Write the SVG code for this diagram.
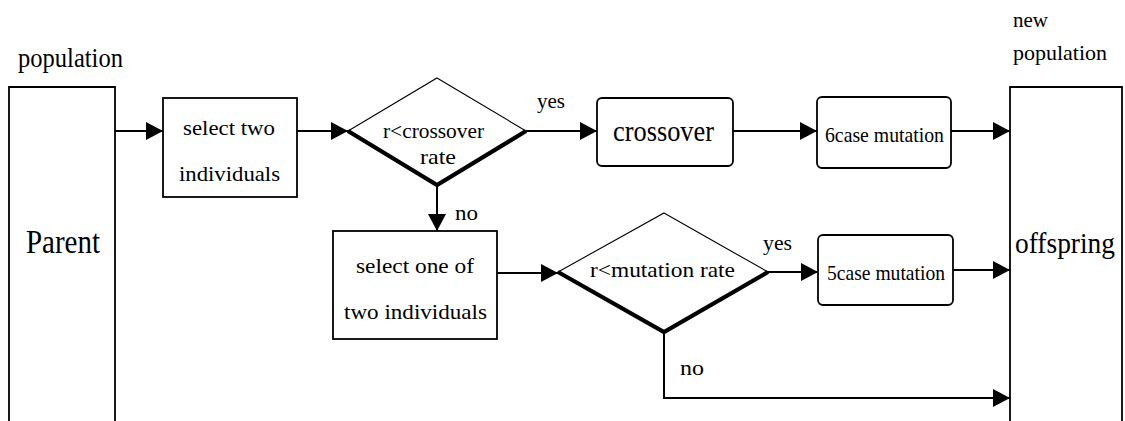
<svg xmlns="http://www.w3.org/2000/svg" width="1125" height="421" viewBox="0 0 1125 421">
<style>
text{font-family:"Liberation Serif","Times New Roman",serif;fill:#000}
.box{fill:#fff;stroke:#000;stroke-width:1.8}
.dia{fill:#fff;stroke:#000;stroke-width:1.1}
.sh{fill:none;stroke:#000;stroke-width:4.2;stroke-linejoin:miter}
.con{fill:none;stroke:#000;stroke-width:2}
.s20{font-size:21px}
</style>
<defs>
<marker id="ah" markerUnits="userSpaceOnUse" markerWidth="17" markerHeight="18" refX="17" refY="9" orient="auto">
<path d="M0,0 L17,9 L0,18 z" fill="#000"/>
</marker>
</defs>
<rect width="1125" height="421" fill="#fff"/>

<g id="connectors">
<line class="con" x1="115" y1="131" x2="163" y2="131" marker-end="url(#ah)"/>
<line class="con" x1="297" y1="131" x2="348" y2="131" marker-end="url(#ah)"/>
<line class="con" x1="526" y1="131" x2="597" y2="131" marker-end="url(#ah)"/>
<line class="con" x1="733" y1="131" x2="817" y2="131" marker-end="url(#ah)"/>
<line class="con" x1="951" y1="131" x2="1010" y2="131" marker-end="url(#ah)"/>
<line class="con" x1="437" y1="185" x2="437" y2="231" marker-end="url(#ah)"/>
<line class="con" x1="497" y1="273" x2="558" y2="273" marker-end="url(#ah)"/>
<line class="con" x1="768" y1="272" x2="818" y2="272" marker-end="url(#ah)"/>
<line class="con" x1="953" y1="270" x2="1010" y2="270" marker-end="url(#ah)"/>
<polyline class="con" points="664,332 664,398 1010,398" marker-end="url(#ah)"/>
<text class="s20" x="537" y="108" textLength="28" lengthAdjust="spacingAndGlyphs">yes</text>
<text class="s20" x="455" y="220" textLength="23" lengthAdjust="spacingAndGlyphs">no</text>
<text class="s20" x="763" y="250" textLength="29" lengthAdjust="spacingAndGlyphs">yes</text>
<text class="s20" x="680" y="375" textLength="24" lengthAdjust="spacingAndGlyphs">no</text>
</g>

<g id="parent">
<text x="18" y="67" font-size="27" textLength="105" lengthAdjust="spacingAndGlyphs">population</text>
<path class="box" d="M9,421 V87 H115 V421"/>
<text x="26" y="253" font-size="33" textLength="74" lengthAdjust="spacingAndGlyphs">Parent</text>
</g>

<g id="select-two">
<rect class="box" x="163" y="98" width="134" height="99"/>
<text class="s20" x="183" y="135" textLength="92" lengthAdjust="spacingAndGlyphs">select two</text>
<text class="s20" x="179" y="181" textLength="101" lengthAdjust="spacingAndGlyphs">individuals</text>
</g>

<g id="crossover-decision">
<polygon class="dia" points="437,78 526,131 437,185 348,131"/>
<polyline class="sh" points="348,131 437,185 526,131"/>
<text class="s20" x="383" y="138" textLength="101" lengthAdjust="spacingAndGlyphs">r&lt;crossover</text>
<text class="s20" x="420" y="164" textLength="36" lengthAdjust="spacingAndGlyphs">rate</text>
</g>

<g id="crossover">
<rect class="box" x="597" y="98" width="136" height="68" rx="5"/>
<text x="613" y="141" font-size="30" textLength="101" lengthAdjust="spacingAndGlyphs">crossover</text>
</g>

<g id="mutation6">
<rect class="box" x="817" y="97" width="134" height="71" rx="5"/>
<text class="s20" x="825" y="142" textLength="119" lengthAdjust="spacingAndGlyphs">6case mutation</text>
</g>

<g id="select-one">
<rect class="box" x="333" y="231" width="164" height="108"/>
<text class="s20" x="356" y="273" textLength="118" lengthAdjust="spacingAndGlyphs">select one of</text>
<text class="s20" x="344" y="319" textLength="143" lengthAdjust="spacingAndGlyphs">two individuals</text>
</g>

<g id="mutation-decision">
<polygon class="dia" points="664,213 768,272 664,332 558,272"/>
<polyline class="sh" points="558,272 664,332 768,272"/>
<text class="s20" x="590" y="277" textLength="145" lengthAdjust="spacingAndGlyphs">r&lt;mutation rate</text>
</g>

<g id="mutation5">
<rect class="box" x="818" y="235" width="135" height="70" rx="5"/>
<text class="s20" x="827" y="280" textLength="118" lengthAdjust="spacingAndGlyphs">5case mutation</text>
</g>

<g id="offspring">
<text x="1013" y="27" font-size="22" textLength="35" lengthAdjust="spacingAndGlyphs">new</text>
<text x="1013" y="60" font-size="22" textLength="94" lengthAdjust="spacingAndGlyphs">population</text>
<path class="box" d="M1010,421 V87 H1122 V421"/>
<text x="1015" y="253" font-size="29" textLength="100" lengthAdjust="spacingAndGlyphs">offspring</text>
</g>
</svg>
